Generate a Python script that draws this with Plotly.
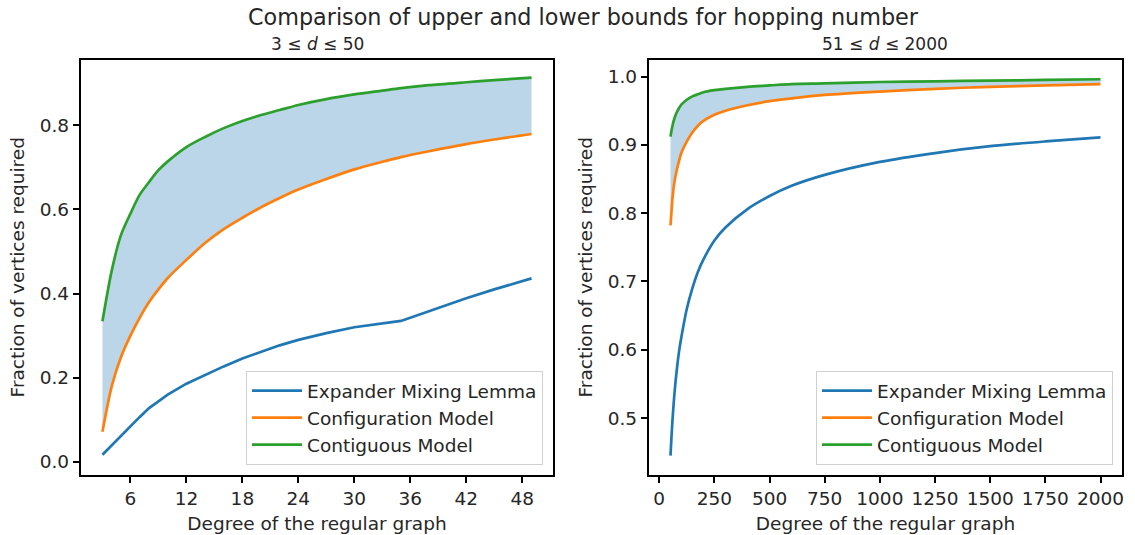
import plotly.graph_objects as go

# ---- data ----
d_small = [3, 4, 5, 6, 7, 8, 9, 10, 12, 14, 16, 18, 20, 22, 24, 27, 30, 33, 35, 38, 42, 45, 49]
eml_small = [0.017, 0.040, 0.062, 0.085, 0.107, 0.128, 0.145, 0.160, 0.186, 0.207, 0.227, 0.246,
             0.262, 0.277, 0.290, 0.306, 0.320, 0.329, 0.335, 0.358, 0.389, 0.410, 0.436]
conf_small = [0.072, 0.180, 0.250, 0.300, 0.343, 0.380, 0.410, 0.437, 0.480, 0.520, 0.553, 0.580,
              0.605, 0.627, 0.647, 0.672, 0.695, 0.713, 0.724, 0.738, 0.755, 0.766, 0.779]
cont_small = [0.334, 0.455, 0.540, 0.590, 0.635, 0.665, 0.693, 0.714, 0.748, 0.772, 0.793, 0.810,
              0.824, 0.836, 0.848, 0.862, 0.873, 0.882, 0.888, 0.895, 0.902, 0.907, 0.913]

d_large = [51, 55, 60, 70, 80, 90, 100, 125, 150, 175, 200, 250, 300, 400, 500, 600, 750,
           1000, 1250, 1500, 1750, 2000]
eml_large = [0.445, 0.470, 0.497, 0.540, 0.572, 0.598, 0.618, 0.660, 0.690, 0.714, 0.732, 0.760,
             0.779, 0.806, 0.825, 0.840, 0.856, 0.875, 0.888, 0.898, 0.905, 0.911]
conf_large = [0.782, 0.800, 0.822, 0.848, 0.864, 0.877, 0.888, 0.905, 0.918, 0.928, 0.935, 0.944,
              0.950, 0.958, 0.964, 0.968, 0.973, 0.978, 0.982, 0.985, 0.987, 0.989]
cont_large = [0.912, 0.920, 0.928, 0.940, 0.948, 0.954, 0.959, 0.966, 0.971, 0.974, 0.977, 0.980,
              0.982, 0.985, 0.987, 0.989, 0.990, 0.992, 0.993, 0.994, 0.995, 0.996]

names = ["Expander Mixing Lemma", "Configuration Model", "Contiguous Model"]
colors = ["#1f77b4", "#ff7f0e", "#2ca02c"]
FILL = "rgba(31,119,180,0.3)"
FONT = "DejaVu Sans"
TXT = "#262626"
FS = 18.5

fig = go.Figure()

def add_panel(d, eml, conf, cont, xa, ya, leg, eml_shape):
    # shaded band between configuration and contiguous model
    fig.add_trace(go.Scatter(x=d, y=conf, xaxis=xa, yaxis=ya, mode="lines",
                             line=dict(width=0, color=FILL, shape="spline", smoothing=0.8),
                             showlegend=False, hoverinfo="skip"))
    fig.add_trace(go.Scatter(x=d, y=cont, xaxis=xa, yaxis=ya, mode="lines", fill="tonexty",
                             fillcolor=FILL, line=dict(width=0, color=FILL, shape="spline", smoothing=0.8),
                             showlegend=False, hoverinfo="skip"))
    shapes = [eml_shape, "spline", "spline"]
    for i, (name, ys, c, sh) in enumerate(zip(names, [eml, conf, cont], colors, shapes)):
        fig.add_trace(go.Scatter(x=d, y=ys, xaxis=xa, yaxis=ya, mode="lines", name=name,
                                 line=dict(color=c, width=2.7, shape=sh, smoothing=0.8),
                                 legend=leg, legendgroup=f"{leg}_{i}"))

add_panel(d_small, eml_small, conf_small, cont_small, "x", "y", "legend", "linear")
add_panel(d_large, eml_large, conf_large, cont_large, "x2", "y2", "legend2", "spline")

W, H = 1135, 535
yd = [1 - 474.5 / H, 1 - 60 / H]
axis_common = dict(showline=True, mirror=True, linecolor="black", linewidth=1.5,
                   ticks="outside", ticklen=6.5, tickwidth=1.5, tickcolor="black",
                   showgrid=False, zeroline=False, automargin=False,
                   tickfont=dict(family=FONT, size=FS, color=TXT),
                   title_font=dict(family=FONT, size=FS, color=TXT))

legend_common = dict(y=1 - 465 / H, xanchor="right", yanchor="bottom", traceorder="normal",
                     tracegroupgap=3, itemwidth=50, bgcolor="rgba(255,255,255,0.8)",
                     bordercolor="#d0d0d0", borderwidth=1,
                     font=dict(family=FONT, size=FS, color=TXT))

fig.update_layout(
    width=W, height=H, margin=dict(l=0, r=0, t=0, b=0, autoexpand=False),
    plot_bgcolor="white", paper_bgcolor="white",
    font=dict(family=FONT, color=TXT),
    xaxis=dict(domain=[81 / W, 553 / W], range=[0.7, 51.3], tickvals=[6, 12, 18, 24, 30, 36, 42, 48],
               title=dict(text="Degree of the regular graph", standoff=9), anchor="y", **axis_common),
    yaxis=dict(domain=yd, range=[-0.0298, 0.9548], tickvals=[0, 0.2, 0.4, 0.6, 0.8], tickformat=".1f",
               title=dict(text="Fraction of vertices required", standoff=10), anchor="x", **axis_common),
    xaxis2=dict(domain=[649 / W, 1122 / W], range=[-46.45, 2097.45],
                tickvals=[0, 250, 500, 750, 1000, 1250, 1500, 1750, 2000],
                title=dict(text="Degree of the regular graph", standoff=9), anchor="y2", **axis_common),
    yaxis2=dict(domain=yd, range=[0.4174, 1.0242], tickvals=[0.5, 0.6, 0.7, 0.8, 0.9, 1.0], tickformat=".1f",
                title=dict(text="Fraction of vertices required", standoff=10), anchor="x2", **axis_common),
    legend=dict(x=543 / W, **legend_common),
    legend2=dict(x=1113 / W, **legend_common),
    annotations=[
        dict(text="Comparison of upper and lower bounds for hopping number", x=583 / W, y=1 - 17 / H,
             xref="paper", yref="paper", showarrow=False, xanchor="center", yanchor="middle",
             font=dict(family=FONT, size=22.3, color=TXT)),
        dict(text="3 ≤ <i>d</i> ≤ 50", x=317 / W, y=1 - 44 / H, xref="paper", yref="paper",
             showarrow=False, xanchor="center", yanchor="middle",
             font=dict(family=FONT, size=17, color=TXT)),
        dict(text="51 ≤ <i>d</i> ≤ 2000", x=885 / W, y=1 - 44 / H, xref="paper", yref="paper",
             showarrow=False, xanchor="center", yanchor="middle",
             font=dict(family=FONT, size=17, color=TXT)),
    ],
)

fig.write_html("out.html", config={"displayModeBar": False},
               post_script="document.body.style.margin='0';document.body.style.overflow='hidden';")
